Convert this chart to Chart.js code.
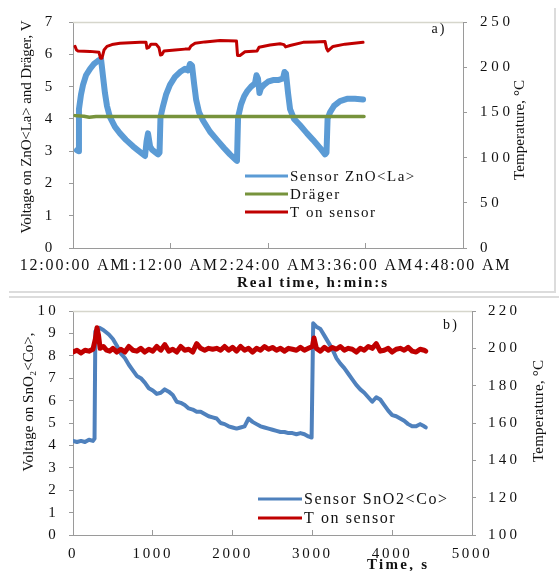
<!DOCTYPE html>
<html>
<head>
<meta charset="utf-8">
<script src="https://cdn.jsdelivr.net/npm/chart.js@4.4.1/dist/chart.umd.min.js"></script>
<style>
html, body { margin: 0; padding: 0; background: #fff; }
#page { position: relative; width: 559px; height: 571px; overflow: hidden; }
.frameA { position: absolute; left: 9px; top: 8px; width: 545px; height: 283px; border-right: 2px solid #dcdcdc; border-bottom: 2px solid #dcdcdc; }
.frameB { position: absolute; left: 9px; top: 296px; width: 550px; height: 0; border-top: 2px solid #dcdcdc; }
#chartA { position: absolute; left: 0; top: 0; }
#chartB { position: absolute; left: 0; top: 290px; }
</style>
</head>
<body>
<div id="page">
  <div class="frameA"></div>
  <div class="frameB"></div>
  <canvas id="chartA" width="559" height="290"></canvas>
  <canvas id="chartB" width="559" height="281"></canvas>
</div>
<script>
/***** panel a) data, time in minutes *****/
var xLabelsA = ["12:00:00 AM", "1:12:00 AM", "2:24:00 AM", "3:36:00 AM", "4:48:00 AM"];

var znoTime = [2.9, 4.1, 4.4, 5.9, 7.4, 9.6, 12.6, 15.5, 18.5, 20.7, 22.2, 23.6, 25.1, 27.3, 31.0, 34.7, 39.1, 44.3, 48.7, 53.2,
    54.3, 55.4, 56.9, 58.3, 62.8, 63.9, 64.6, 66.5, 68.7, 71.6, 75.3, 79.0, 82.7, 84.9, 86.4, 87.9, 89.4, 90.9, 93.1, 96.0,
    101.2, 106.3, 111.5, 115.9, 119.6, 121.1, 121.9, 124.1, 126.4, 128.5, 131.5, 134.4, 135.5, 136.6, 137.7, 138.8, 141.0, 144.0, 147.7, 151.4,
    155.1, 156.2, 157.3, 158.8, 160.3, 163.2, 167.7, 172.8, 177.2, 182.4, 186.1, 187.2, 188.0, 189.8, 192.7, 197.2, 202.3, 208.2, 214.2];
var znoVolt = [3.03, 3.0, 4.3, 4.75, 5.05, 5.35, 5.55, 5.7, 5.8, 5.85, 5.3, 4.8, 4.4, 4.05, 3.75, 3.55, 3.35, 3.15, 3.0, 2.85,
    3.3, 3.55, 3.15, 3.05, 2.9, 2.95, 4.05, 4.4, 4.75, 5.05, 5.3, 5.45, 5.55, 5.5, 5.7, 5.65, 5.1, 4.6, 4.2, 3.95,
    3.6, 3.35, 3.1, 2.9, 2.75, 2.7, 4.05, 4.45, 4.7, 4.85, 5.0, 5.1, 5.35, 5.25, 4.8, 4.95, 5.05, 5.15, 5.2, 5.2,
    5.25, 5.45, 5.4, 4.8, 4.3, 4.0, 3.8, 3.55, 3.35, 3.1, 2.9, 2.95, 4.0, 4.2, 4.4, 4.55, 4.62, 4.62, 4.6];

var dragerTime = [1.5, 8, 12, 17, 22, 214.9];
var dragerVolt = [4.1, 4.08, 4.05, 4.07, 4.07, 4.07];

var tempATime = [1.5, 2.6, 3.7, 12.6, 19.2, 20.3, 21.4, 22.9, 25.1, 28.8, 34.7, 42.1, 49.5, 53.9, 54.6, 56.1, 57.6, 61.3, 63.5, 64.6,
    65.7, 67.2, 75.3, 82.7, 85.7, 87.1, 90.1, 97.5, 108.6, 120.7, 121.5, 123.3, 127.0, 135.9, 137.4, 145.5, 152.9, 155.8, 157.0, 160.3,
    169.9, 178.7, 186.1, 187.2, 188.3, 192.0, 200.9, 214.2];
var tempA = [223, 219, 218, 217.5, 216.5, 210, 210, 219, 223, 225, 226.4, 227, 227.5, 227.5, 221, 222, 225.5, 225.5, 221.5, 213.5,
    214, 218, 219, 220, 220, 223.5, 226.5, 228, 229.5, 229, 213, 213, 217, 218, 222, 224.5, 226, 225, 222.5, 224,
    227.5, 228, 228.5, 221, 218, 223, 225.5, 227.5];

/***** panel b) data, time in seconds *****/
var snoTime = [0, 50, 100, 150, 200, 250, 270, 280, 330, 380,
    450, 500, 550, 600, 650, 700, 750, 800, 850, 900, 950, 1000, 1050, 1100, 1150, 1200, 1250, 1300, 1350, 1400,
    1450, 1500, 1550, 1600, 1650, 1700, 1750, 1800, 1850, 1900, 1950, 2000, 2050, 2100, 2150, 2200, 2250, 2300, 2350, 2400,
    2450, 2500, 2550, 2600, 2650, 2700, 2750, 2800, 2850, 2900, 2950, 2990, 3010,
    3050, 3100, 3150, 3200, 3250, 3300, 3350, 3400, 3450, 3500, 3550, 3600, 3650, 3700, 3750, 3800, 3850, 3900,
    3950, 4000, 4050, 4100, 4150, 4200, 4250, 4300, 4350, 4400, 4420];
var snoVolt = [4.2, 4.15, 4.2, 4.15, 4.25, 4.2, 4.3, 9.1, 9.25, 9.15,
    8.95, 8.75, 8.45, 8.1, 7.9, 7.6, 7.35, 7.1, 7.0, 6.8, 6.55, 6.45, 6.3, 6.35, 6.5, 6.4, 6.25, 5.95, 5.9, 5.8,
    5.65, 5.6, 5.5, 5.5, 5.4, 5.3, 5.25, 5.2, 5.0, 4.95, 4.85, 4.8, 4.75, 4.8, 4.85, 5.2, 5.05, 4.95, 4.85, 4.8,
    4.75, 4.7, 4.65, 4.6, 4.6, 4.55, 4.55, 4.5, 4.55, 4.5, 4.4, 4.35, 9.45,
    9.3, 9.2, 8.9, 8.6, 8.3, 7.9, 7.65, 7.45, 7.2, 6.95, 6.7, 6.5, 6.35, 6.15, 5.95, 6.15, 6.05, 5.8,
    5.55, 5.35, 5.3, 5.2, 5.1, 4.95, 4.85, 4.85, 4.95, 4.85, 4.8];

var tempBTime = [0, 50, 100, 150, 200, 250, 280, 300, 320, 340, 380, 420, 460,
    500, 550, 600, 650, 700, 750, 800, 850, 900, 950, 1000, 1050, 1100, 1150, 1200, 1250, 1300, 1350, 1400, 1450,
    1500, 1550, 1600, 1650, 1700, 1750, 1800, 1850, 1900, 1950, 2000, 2050, 2100, 2150, 2200, 2250, 2300, 2350, 2400, 2450,
    2500, 2550, 2600, 2650, 2700, 2750, 2800, 2850, 2900, 2950, 3000, 3020,
    3050, 3100, 3150, 3200, 3250, 3300, 3350, 3400, 3450, 3500, 3550, 3600, 3650, 3700, 3750, 3800, 3850, 3900,
    3950, 4000, 4050, 4100, 4150, 4200, 4250, 4300, 4350, 4400, 4420];
var tempB = [198, 199, 197.5, 199, 198.5, 199.5, 205, 211, 207, 200, 201, 199, 198.5,
    200, 198, 199.5, 198, 201, 199, 198.5, 200, 198, 199.5, 198.5, 201, 199, 202, 198.5, 199.5, 198, 201, 199, 199.5,
    198, 202.5, 200, 199, 200, 199.5, 200, 199, 201, 199, 200.5, 198.5, 201, 199, 200, 198, 200, 199, 201, 199.5,
    200.5, 199, 200, 198.5, 200, 199.5, 199, 200.5, 199, 200, 201, 205.5,
    200, 198.5, 200.5, 199, 200.5, 199.5, 201, 199, 200, 199.5, 198, 200, 199, 201, 200, 202.5, 198.5, 199,
    200, 198, 199.5, 200, 199, 200.5, 198.5, 198, 199.5, 199, 198.5];

function pairs(xs, ys) {
    return xs.map(function (x, i) { return { x: x, y: ys[i] }; });
}

var SERIF = "'Liberation Serif', 'Times New Roman', serif";

// letter spacing that makes `text` in `font` about `target` px wide (the source figure uses a wide face)
function spacingFor(ctx, text, font, target) {
    ctx.save();
    ctx.font = font;
    ctx.letterSpacing = '0px';
    var w = ctx.measureText(text).width;
    ctx.restore();
    var n = Math.max(text.length - 1, 1);
    return ((target - w) / n).toFixed(2) + 'px';
}

// widen a scale's tick labels
function widen(s, sample, target, font) {
    if (s.$widened) return;
    s.$widened = true;
    var draw = s.drawLabels;
    s.drawLabels = function (area) {
        var ctx = this.ctx;
        var prev = ctx.letterSpacing;
        ctx.letterSpacing = spacingFor(ctx, sample, font, target);
        draw.call(this, area);
        ctx.letterSpacing = prev || '0px';
    };
}

// axis titles, panel tags and the in-plot legend
var overlay = {
    id: 'overlay',
    beforeDatasetsDraw: function (chart) {
        var ctx = chart.ctx, a = chart.chartArea;
        ctx.save();
        ctx.strokeStyle = '#d6d6cc';
        ctx.lineWidth = 1.5;
        ctx.beginPath();
        ctx.moveTo(a.left, a.top + 0.5);
        ctx.lineTo(a.right, a.top + 0.5);
        ctx.stroke();
        ctx.restore();
    },
    afterDraw: function (chart, args, opts) {
        var ctx = chart.ctx;
        ctx.save();
        ctx.fillStyle = '#111';
        ctx.textBaseline = 'middle';
        (opts.texts || []).forEach(function (t) {
            ctx.save();
            ctx.translate(t.x, t.y);
            if (t.rot) ctx.rotate(t.rot * Math.PI / 180);
            ctx.letterSpacing = spacingFor(ctx, t.text, t.font, t.w);
            ctx.font = t.font;
            ctx.textAlign = 'left';
            ctx.fillText(t.text, -t.w / 2, 0);
            ctx.restore();
        });
        var lg = opts.legend;
        if (lg) {
            ctx.textAlign = 'left';
            lg.items.forEach(function (idx, i) {
                var ds = chart.data.datasets[idx];
                var y = lg.y[i];
                ctx.strokeStyle = ds.borderColor;
                ctx.lineWidth = 3;
                ctx.beginPath();
                ctx.moveTo(lg.x1, y);
                ctx.lineTo(lg.x2, y);
                ctx.stroke();
                ctx.save();
                ctx.letterSpacing = lg.spacing;
                ctx.font = lg.font;
                ctx.fillText(ds.label, lg.tx, y + 1);
                ctx.restore();
            });
        }
        ctx.restore();
    }
};

var tickFont = { family: SERIF, size: 15 };
var tickFontStr = "15px " + SERIF;
var xTickFontA = { family: SERIF, size: 16 };
var axisGray = '#9a9a9a';

function yAxis(pos, min, max, step, width, pad, sample, target) {
    return {
        position: pos, min: min, max: max,
        afterFit: function (s) { s.width = width; widen(s, sample, target, tickFontStr); },
        ticks: { stepSize: step, padding: pad, color: '#111', font: tickFont, callback: function (v) { return String(v); } },
        grid: { drawOnChartArea: false, tickLength: 4, color: axisGray },
        border: { color: axisGray }
    };
}

/***** chart a) *****/
new Chart(document.getElementById('chartA'), {
    type: 'line',
    data: {
        datasets: [
            { label: 'Sensor ZnO<La>', data: pairs(znoTime, znoVolt), borderColor: '#5B9BD5', borderWidth: 6, yAxisID: 'y', order: 2 },
            { label: 'Dräger', data: pairs(dragerTime, dragerVolt), borderColor: '#77933C', borderWidth: 3.5, yAxisID: 'y', order: 1 },
            { label: 'T on sensor', data: pairs(tempATime, tempA), borderColor: '#C00000', borderWidth: 3, yAxisID: 'y2', order: 0 }
        ]
    },
    options: {
        responsive: false,
        animation: false,
        layout: { padding: { top: 15 } },
        elements: { point: { radius: 0 }, line: { borderJoinStyle: 'round', borderCapStyle: 'round' } },
        plugins: {
            legend: { display: false },
            tooltip: { enabled: false },
            overlay: {
                texts: [
                    { text: 'Voltage on ZnO<La> and Dräger, V', x: 27, y: 127, rot: -90, w: 213, font: "15px " + SERIF },
                    { text: 'Temperature, °C', x: 520, y: 130, rot: -90, w: 100, font: "15px " + SERIF },
                    { text: 'Real time, h:min:s', x: 312, y: 283, w: 150, font: "bold 15px " + SERIF },
                    { text: 'a)', x: 438, y: 29, w: 13, font: "14px " + SERIF }
                ],
                legend: { items: [0, 1, 2], x1: 245, x2: 288, tx: 290, y: [176, 194, 212], font: "15px " + SERIF, spacing: '1.5px' }
            }
        },
        scales: {
            x: {
                type: 'linear', min: 0, max: 288,
                afterFit: function (s) { s.height = 42; widen(s, '4:48:00 AM', 95, "16px " + SERIF); },
                ticks: {
                    stepSize: 72, autoSkip: false, maxRotation: 0, minRotation: 0, padding: 13,
                    color: '#111', font: xTickFontA,
                    callback: function (v) { return xLabelsA[Math.round(v / 72)]; }
                },
                grid: { drawOnChartArea: false, tickLength: -5, color: axisGray },
                border: { color: axisGray }
            },
            y: yAxis('left', 0, 7, 1, 73, 13, '250', 30),
            y2: yAxis('right', 0, 250, 50, 96, 13, '250', 30)
        }
    },
    plugins: [overlay]
});

/***** chart b) *****/
new Chart(document.getElementById('chartB'), {
    type: 'line',
    data: {
        datasets: [
            { label: 'Sensor SnO2<Co>', data: pairs(snoTime, snoVolt), borderColor: '#4F81BD', borderWidth: 4, yAxisID: 'y', order: 1 },
            { label: 'T on sensor', data: pairs(tempBTime, tempB), borderColor: '#C00000', borderWidth: 5, yAxisID: 'y2', order: 0 }
        ]
    },
    options: {
        responsive: false,
        animation: false,
        layout: { padding: { top: 18 } },
        elements: { point: { radius: 0 }, line: { borderJoinStyle: 'round', borderCapStyle: 'round' } },
        plugins: {
            legend: { display: false },
            tooltip: { enabled: false },
            overlay: {
                texts: [
                    { text: 'Voltage on SnO₂<Co>,', x: 29, y: 112, rot: -90, w: 139, font: "15px " + SERIF },
                    { text: 'Temperature, °C', x: 539, y: 121, rot: -90, w: 102, font: "15px " + SERIF },
                    { text: 'Time, s', x: 397, y: 275, w: 60, font: "bold 15px " + SERIF },
                    { text: 'b)', x: 450, y: 35, w: 14, font: "14px " + SERIF }
                ],
                legend: { items: [0, 1], x1: 258, x2: 302, tx: 304, y: [209, 228], font: "16px " + SERIF, spacing: '1.6px' }
            }
        },
        scales: {
            x: {
                type: 'linear', min: 0, max: 5000,
                afterFit: function (s) { s.height = 36; widen(s, '1000', 38, tickFontStr); },
                ticks: { stepSize: 1000, autoSkip: false, maxRotation: 0, padding: 15, color: '#111', font: tickFont,
                    callback: function (v) { return String(v); } },
                grid: { drawOnChartArea: false, tickLength: -5, color: axisGray },
                border: { color: axisGray }
            },
            y: yAxis('left', 0, 10, 1, 73, 10, '220', 29),
            y2: yAxis('right', 100, 220, 20, 87, 12, '220', 29)
        }
    },
    plugins: [overlay]
});
</script>
</body>
</html>
